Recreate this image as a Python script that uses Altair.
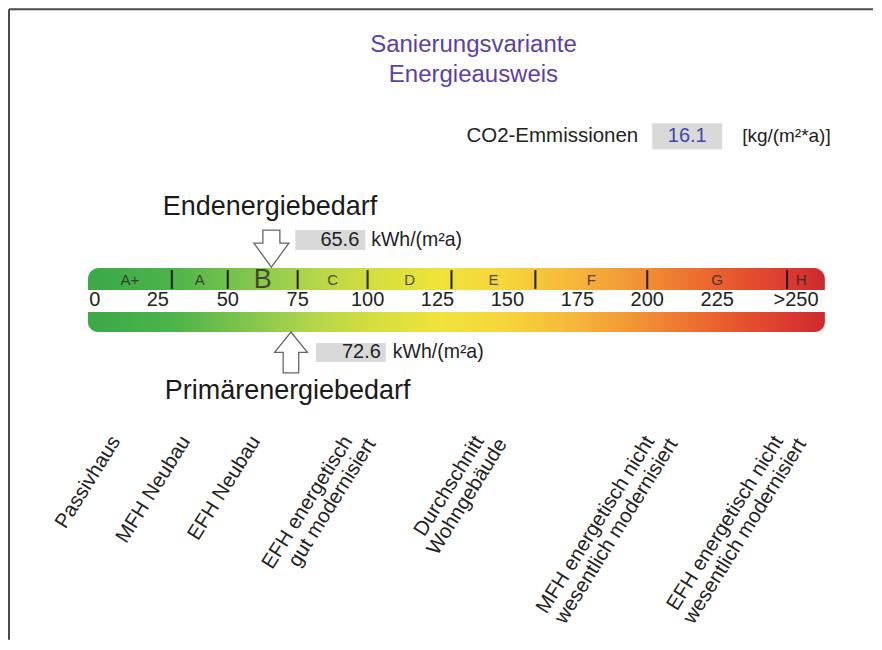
import altair as alt
import pandas as pd

# ---------------- data ----------------
title_lines = ["Sanierungsvariante", "Energieausweis"]
class_names = ["A+", "A", "B", "C", "D", "E", "F", "G", "H"]
class_lower = [0, 30, 50, 75, 100, 130, 160, 200, 250]
class_upper = [30, 50, 75, 100, 130, 160, 200, 250, 260]
bar_max = 263.5
tick_values = [0, 25, 50, 75, 100, 125, 150, 175, 200, 225, 250]
tick_labels = ["0", "25", "50", "75", "100", "125", "150", "175", "200", "225", ">250"]
end_energy = 65.6
primary_energy = 72.6
co2_value = 16.1
ref_line1 = ["Passivhaus", "MFH Neubau", "EFH Neubau", "EFH energetisch", "Durchschnitt",
             "MFH energetisch nicht", "EFH energetisch nicht"]
ref_line2 = ["", "", "", "gut modernisiert", "Wohngebäude",
             "wesentlich modernisiert", "wesentlich modernisiert"]
ref_values = [10, 35, 60, 93, 140, 201, 247]
gradient_values = [0, 30, 55, 80, 100, 125, 150, 175, 200, 225, 250, 263.5]
gradient_colors = ["#3aa948", "#4cb34a", "#7dc44c", "#b2d64a", "#d2dd3e", "#efe33a",
                   "#f7d53b", "#f6b53a", "#f18d34", "#ea612e", "#dc3a2f", "#cc2a2e"]

# ---------------- layout ----------------
W, H = 866, 632
FONT = "Liberation Sans"
XS = alt.Scale(domain=[-28.571, 280.714], nice=False, zero=False)


def X(field):
    return alt.X(field, type="quantitative", scale=XS, axis=None)


one = pd.DataFrame({"a": [0]})

grad = alt.LinearGradient(
    gradient="linear",
    stops=[alt.GradientStop(color=c, offset=v / bar_max) for v, c in zip(gradient_values, gradient_colors)],
    x1=0, x2=1, y1=0, y2=0,
)

layers = []

# frame
layers.append(alt.Chart(one).mark_rule(color="#4a4a4a", strokeWidth=2).encode(
    x=alt.value(1), x2=alt.value(W), y=alt.value(1)))
layers.append(alt.Chart(one).mark_rule(color="#4a4a4a", strokeWidth=2).encode(
    x=alt.value(1), y=alt.value(1), y2=alt.value(H)))

# title
layers.append(alt.Chart(one).mark_text(
    font=FONT, fontSize=24, color="#5b40a8", align="center", baseline="alphabetic", lineHeight=30
).encode(x=alt.value(466), y=alt.value(44), text=alt.value(title_lines)))

# CO2 row
co2_df = pd.DataFrame({"v": [co2_value]})
layers.append(alt.Chart(one).mark_text(font=FONT, fontSize=20.5, color="#222", align="left").encode(
    x=alt.value(459), y=alt.value(128), text=alt.value("CO2-Emmissionen")))
layers.append(alt.Chart(one).mark_rect(fill="#d9d9d9").encode(
    x=alt.value(645), x2=alt.value(715), y=alt.value(115), y2=alt.value(141)))
layers.append(alt.Chart(co2_df).mark_text(font=FONT, fontSize=20, color="#4646a6", align="center").encode(
    x=alt.value(680), y=alt.value(128), text=alt.Text("v:Q", format=".1f")))
layers.append(alt.Chart(one).mark_text(font=FONT, fontSize=19, color="#222", align="left").encode(
    x=alt.value(735), y=alt.value(128), text=alt.value("[kg/(m²*a)]")))

# headers
layers.append(alt.Chart(one).mark_text(font=FONT, fontSize=27, color="#1a1a1a", align="left",
                                       baseline="alphabetic").encode(
    x=alt.value(155), y=alt.value(207), text=alt.value("Endenergiebedarf")))
layers.append(alt.Chart(one).mark_text(font=FONT, fontSize=27, color="#1a1a1a", align="left",
                                       baseline="alphabetic").encode(
    x=alt.value(157), y=alt.value(391), text=alt.value("Primärenergiebedarf")))

# bars
bar_df = pd.DataFrame({"x0": [0], "x1": [bar_max]})
layers.append(alt.Chart(bar_df).mark_rect(fill=grad, cornerRadiusTopLeft=11, cornerRadiusTopRight=11).encode(
    x=X("x0"), x2="x1", y=alt.value(260), y2=alt.value(282)))
layers.append(alt.Chart(bar_df).mark_rect(fill=grad, cornerRadiusBottomLeft=11, cornerRadiusBottomRight=11).encode(
    x=X("x0"), x2="x1", y=alt.value(304), y2=alt.value(324)))

# class dividers
div_df = pd.DataFrame({"b": class_lower[1:]})
layers.append(alt.Chart(div_df).mark_rule(color="#1a1a1a", strokeWidth=2).encode(
    x=X("b"), y=alt.value(262), y2=alt.value(281)))

# class labels
cls_df = pd.DataFrame({
    "name": class_names,
    "mid": [(lo + hi) / 2 for lo, hi in zip(class_lower, class_upper)],
    "current": [lo <= end_energy < hi for lo, hi in zip(class_lower, class_upper)],
})
layers.append(alt.Chart(cls_df).mark_text(font=FONT, color="#2a2a2a", opacity=0.8, baseline="middle").encode(
    x=X("mid"), y=alt.value(272), text="name:N",
    size=alt.condition(alt.datum.current, alt.value(27), alt.value(15))))

# tick labels
tick_df = pd.DataFrame({"v": tick_values, "label": tick_labels})
layers.append(alt.Chart(tick_df.iloc[1:-1]).mark_text(font=FONT, fontSize=20, color="#222").encode(
    x=X("v"), y=alt.value(292), text="label:N"))
layers.append(alt.Chart(tick_df.iloc[:1]).mark_text(font=FONT, fontSize=20, color="#222", dx=7).encode(
    x=X("v"), y=alt.value(292), text="label:N"))
layers.append(alt.Chart(tick_df.iloc[-1:]).mark_text(font=FONT, fontSize=20, color="#222", dx=9).encode(
    x=X("v"), y=alt.value(292), text="label:N"))

# arrows + value boxes
down_path = "M-0.46,-1 L0.46,-1 L0.46,-0.3 L0.95,-0.3 L0,1 L-0.95,-0.3 L-0.46,-0.3 Z"
up_path = "M0,-1 L0.8,0 L0.38,0 L0.38,1 L-0.38,1 L-0.38,0 L-0.8,0 Z"
e_df = pd.DataFrame({"v": [end_energy]})
p_df = pd.DataFrame({"v": [primary_energy]})

layers.append(alt.Chart(e_df).mark_point(shape=down_path, size=1369, filled=True, fill="white",
                                         stroke="#666", strokeWidth=1.3, opacity=1).encode(
    x=X("v"), y=alt.value(240.5)))
layers.append(alt.Chart(e_df).mark_rect(fill="#d9d9d9", xOffset=24, x2Offset=94).encode(
    x=X("v"), x2=alt.X2("v"), y=alt.value(222), y2=alt.value(242)))
layers.append(alt.Chart(e_df).mark_text(font=FONT, fontSize=20, color="#222", align="right", dx=88).encode(
    x=X("v"), y=alt.value(232), text=alt.Text("v:Q", format=".1f")))
layers.append(alt.Chart(e_df).mark_text(font=FONT, fontSize=19.5, color="#222", align="left", dx=100).encode(
    x=X("v"), y=alt.value(232), text=alt.value("kWh/(m²a)")))

layers.append(alt.Chart(p_df).mark_point(shape=up_path, size=1681, filled=True, fill="white",
                                         stroke="#666", strokeWidth=1.3, opacity=1).encode(
    x=X("v"), y=alt.value(344.5)))
layers.append(alt.Chart(p_df).mark_rect(fill="#d9d9d9", xOffset=25, x2Offset=95).encode(
    x=X("v"), x2=alt.X2("v"), y=alt.value(335), y2=alt.value(354)))
layers.append(alt.Chart(p_df).mark_text(font=FONT, fontSize=20, color="#222", align="right", dx=90).encode(
    x=X("v"), y=alt.value(344.5), text=alt.Text("v:Q", format=".1f")))
layers.append(alt.Chart(p_df).mark_text(font=FONT, fontSize=19.5, color="#222", align="left", dx=102).encode(
    x=X("v"), y=alt.value(344.5), text=alt.value("kWh/(m²a)")))

# reference building labels (rotated; dx/dy act in the rotated frame)
ref_df = pd.DataFrame({"v": ref_values, "l1": ref_line1, "l2": ref_line2})
layers.append(alt.Chart(ref_df).mark_text(font=FONT, fontSize=20.5, color="#222", align="right",
                                          baseline="middle", angle=302).encode(
    x=X("v"), y=alt.value(430), text="l1:N"))
layers.append(alt.Chart(ref_df).mark_text(font=FONT, fontSize=20.5, color="#222", align="right",
                                          baseline="middle", angle=302, dx=10, dy=21).encode(
    x=X("v"), y=alt.value(430), text="l2:N"))

chart = alt.layer(*layers).properties(
    width=W, height=H, padding=0, background="white"
).configure_view(stroke=None)

chart.save("out.html", embed_options={"renderer": "svg", "actions": False})
